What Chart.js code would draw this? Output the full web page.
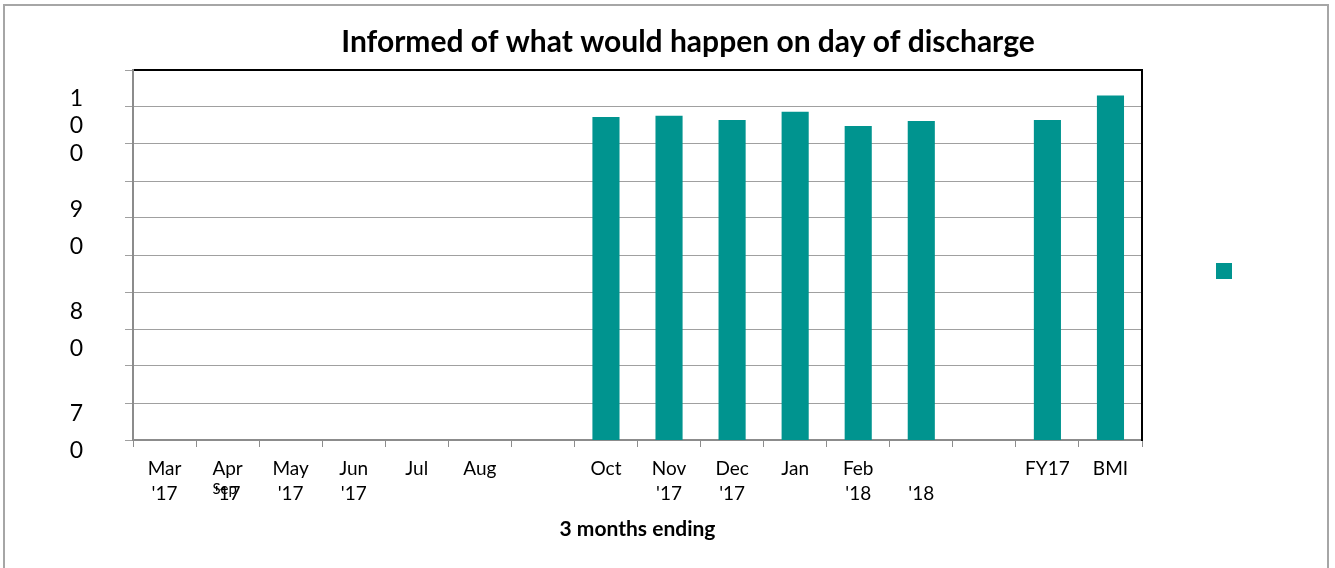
<!DOCTYPE html>
<html>
<head>
<meta charset="utf-8">
<script src="https://cdn.jsdelivr.net/npm/chart.js@4.4.0/dist/chart.umd.min.js"></script>
<style>
  html, body { margin: 0; padding: 0; background: #fff; overflow: hidden; }
  #frame { position: absolute; left: 3px; top: 4px; width: 1322px; height: 600px; border: 2px solid #a6a6a6; }
  #wrap { position: absolute; left: 0; top: 0; width: 1335px; height: 568px; }
</style>
</head>
<body>
<div id="frame"></div>
<div id="wrap"><canvas id="chart" width="1335" height="568"></canvas></div>
<script>
// categories (3 months ending), wrapped the way the original shows them
const categoryLabels = [
    ['Mar', "'17"], ['Apr', "'17"], ['May', "'17"], ['Jun', "'17"],
    'Jul', 'Aug', '', 'Oct', ['Nov', "'17"], ['Dec', "'17"], 'Jan',
    ['Feb', "'18"], ['', "'18"], '', 'FY17', 'BMI'
];
const overlapLabel = 'Sep';   // Sep label ends up squeezed under Apr
const scores = [null, null, null, null, null, null, null,
    100.9, 101.0, 100.6, 101.4, 100.0, 100.5, null, 100.6, 103.0];
const yLabelValues = [70, 80, 90, 100];
const yMin = 69.2;
const yMax = 105.5;
const gridCount = 10;

const FONT = 'Lato';
const TEAL = '#00948F';

const overlapLabelPlugin = {
    id: 'overlapLabel',
    afterDraw(chart) {
        const xs = chart.scales.x;
        const ctx = chart.ctx;
        ctx.save();
        ctx.font = '15px ' + FONT;
        ctx.fillStyle = '#000';
        ctx.textAlign = 'center';
        ctx.textBaseline = 'middle';
        ctx.fillText(overlapLabel, xs.getPixelForValue(1) - 3, xs.top + 49);
        ctx.restore();
    }
};

const ctx = document.getElementById('chart').getContext('2d');
new Chart(ctx, {
    type: 'bar',
    data: {
        labels: categoryLabels,
        datasets: [{
            label: '',
            data: scores,
            backgroundColor: TEAL,
            borderWidth: 0,
            categoryPercentage: 1,
            barPercentage: 0.43,
            yAxisID: 'y'
        }]
    },
    options: {
        responsive: false,
        animation: false,
        layout: { padding: { left: 41, right: 0, top: 0, bottom: 26 } },
        plugins: {
            title: {
                display: true,
                text: 'Informed of what would happen on day of discharge',
                color: '#000',
                font: { family: FONT, size: 30, weight: 'bold', lineHeight: 1.2 },
                padding: { top: 24, bottom: 10 }
            },
            legend: {
                position: 'right',
                labels: { boxWidth: 16, boxHeight: 16, padding: 10, font: { size: 12 } }
            },
            tooltip: { enabled: false }
        },
        scales: {
            x: {
                type: 'category',
                grid: { display: true, drawOnChartArea: false, tickLength: 7, color: '#8c8c8c', offset: true },
                border: { color: '#8c8c8c', width: 2 },
                ticks: {
                    color: '#000', padding: 9, maxRotation: 0, autoSkip: false,
                    font: { family: FONT, size: 19, lineHeight: 25 / 19 }
                },
                title: {
                    display: true, text: '3 months ending', color: '#000',
                    font: { family: FONT, size: 21, weight: 'bold', lineHeight: 1.2 },
                    padding: { top: 0, bottom: 0 }
                },
                afterFit: s => { s.height = 102; }
            },
            x2: {
                type: 'linear', position: 'top', min: 0, max: 1,
                grid: { display: false },
                ticks: { display: false },
                border: { color: '#000', width: 2 },
                afterFit: s => { s.height = 0; }
            },
            y: {
                type: 'linear', position: 'left', weight: 0,
                min: yMin, max: yMax,
                afterBuildTicks: s => {
                    s.ticks = [];
                    for (let i = 0; i <= gridCount; i++) {
                        s.ticks.push({ value: yMin + (yMax - yMin) * i / gridCount });
                    }
                },
                grid: { color: '#a0a0a0', lineWidth: 1, tickLength: 8 },
                border: { color: '#8c8c8c', width: 2 },
                ticks: { display: false },
                afterFit: s => { s.width = 8; }
            },
            y2: {
                type: 'linear', position: 'left', weight: 1,
                min: yMin, max: yMax,
                afterBuildTicks: s => { s.ticks = yLabelValues.map(v => ({ value: v })); },
                grid: { display: false },
                border: { display: false },
                ticks: {
                    color: '#000', padding: 34, autoSkip: false,
                    callback: v => String(v).split(''),
                    font: c => ({ family: FONT, size: 23, lineHeight: c.tick && c.tick.value === 100 ? 1.2 : 1.6 })
                },
                afterFit: s => {
                    s.width = 84;
                    s.paddingTop = 0;
                    s.paddingBottom = 0;
                }
            },
            yr: {
                type: 'linear', position: 'right', weight: 0, min: 0, max: 1,
                grid: { display: false },
                ticks: { display: false },
                border: { color: '#000', width: 2 },
                afterFit: s => { s.width = 64; }
            },
            yPad: {
                type: 'linear', position: 'right', weight: 2000, min: 0, max: 1,
                grid: { display: false },
                ticks: { display: false },
                border: { display: false },
                afterFit: s => { s.width = 87; }
            }
        }
    },
    plugins: [overlapLabelPlugin]
});
</script>
</body>
</html>
